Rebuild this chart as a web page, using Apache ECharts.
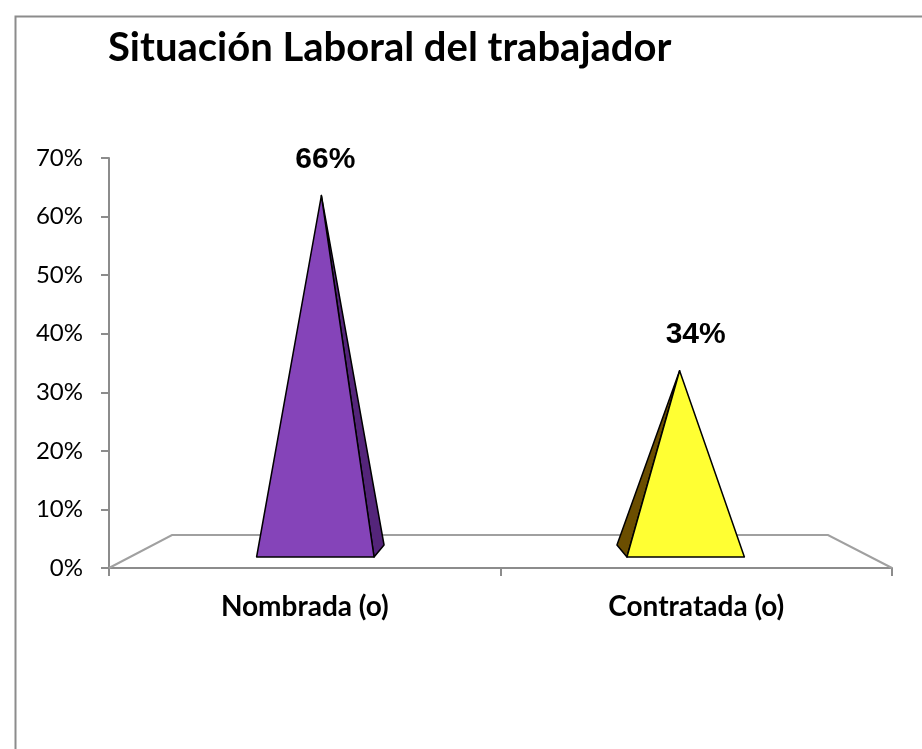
<!DOCTYPE html>
<html>
<head>
<meta charset="utf-8">
<script src="https://cdn.jsdelivr.net/npm/echarts@6/dist/echarts.min.js"></script>
<style>
  html, body { margin: 0; padding: 0; background: #fff; }
  #chart { width: 922px; height: 749px; }
</style>
</head>
<body>
<div id="chart"></div>
<script>
// Chart data
const categories = ['Nombrada (o)', 'Contratada (o)']
const values = [0.66, 0.34]
const valueLabels = ['66%', '34%']
const frontColors = ['#8544b9', '#ffff33']
const sideColors = ['#54257a', '#6b4e00']

const axisGray = '#8c8c8c'

const chart = echarts.init(document.getElementById('chart'))

// Draws one pyramid (plus the 3D floor for the first item)
function renderPyramid(params, api) {
  const idx = params.dataIndex
  const cs = params.coordSys
  const vx = cs.x + cs.width / 2
  const base = api.coord([api.value(0), 0])
  const top = api.coord([api.value(0), api.value(1)])
  const band = api.size([1, 0])[0]

  const baseY = base[1] - 11
  const bc = vx + (base[0] - vx) * 0.946
  const half = band * 0.15
  const ax = vx + (base[0] - vx) * 0.915
  const ay = baseY - (base[1] - top[1]) * 0.935
  const dir = base[0] < vx ? 1 : -1

  const bl = [bc - half, baseY]
  const br = [bc + half, baseY]
  const sideBase = dir > 0 ? br : bl
  const sideBack = [sideBase[0] + dir * 10, baseY - 12]

  const children = []
  if (idx === 0) {
    const fy = cs.y + cs.height
    children.push({
      type: 'polyline',
      z2: 0,
      shape: { points: [[cs.x, fy], [cs.x + 63, fy - 33], [cs.x + cs.width - 64, fy - 33], [cs.x + cs.width, fy]] },
      style: { stroke: '#a0a0a0', lineWidth: 2, fill: null }
    })
  }
  children.push({
    type: 'polygon',
    z2: 5,
    shape: { points: [[ax, ay], sideBase, sideBack] },
    style: { fill: sideColors[idx], stroke: '#000', lineWidth: 1.5, lineJoin: 'round' }
  })
  children.push({
    type: 'polygon',
    z2: 6,
    shape: { points: [[ax, ay], bl, br] },
    style: { fill: frontColors[idx], stroke: '#000', lineWidth: 1.5, lineJoin: 'round' }
  })
  children.push({
    type: 'text',
    z2: 7,
    style: {
      x: bc + 10, y: ay - 36,
      text: valueLabels[idx],
      align: 'center', verticalAlign: 'middle',
      font: 'bold 30px "Liberation Sans", Arial, sans-serif',
      fill: '#000'
    }
  })
  return { type: 'group', children }
}

chart.setOption({
  animation: false,
  title: {
    text: 'Situación Laboral del trabajador',
    left: 103,
    top: 23,
    textStyle: { fontFamily: 'Lato', fontWeight: 'bold', fontSize: 40, color: '#000' }
  },
  graphic: [{
    type: 'rect',
    left: 13,
    top: 14,
    shape: { width: 1000, height: 1000 },
    style: { fill: 'none', stroke: axisGray, lineWidth: 2 }
  }],
  grid: { left: 109, right: 30, top: 158, bottom: 181 },
  xAxis: {
    type: 'category',
    data: categories,
    axisLine: { lineStyle: { color: axisGray, width: 2 } },
    axisTick: { show: true, length: 8, lineStyle: { color: axisGray, width: 2 } },
    axisLabel: { margin: 25, fontFamily: 'Lato', fontWeight: 'bold', fontSize: 28, color: '#000' }
  },
  yAxis: {
    type: 'value',
    min: 0,
    max: 0.7,
    interval: 0.1,
    splitLine: { show: false },
    axisLine: { show: true, lineStyle: { color: axisGray, width: 2 } },
    axisTick: { show: true, length: 8, lineStyle: { color: axisGray, width: 2 } },
    axisLabel: {
      margin: 26,
      fontFamily: 'Lato',
      fontSize: 24,
      color: '#000',
      formatter: v => Math.round(v * 100) + '%'
    }
  },
  series: [{
    type: 'custom',
    renderItem: renderPyramid,
    encode: { x: 0, y: 1 },
    data: values.map((v, i) => [i, v])
  }]
})

window.addEventListener('resize', () => chart.resize())
</script>
</body>
</html>
